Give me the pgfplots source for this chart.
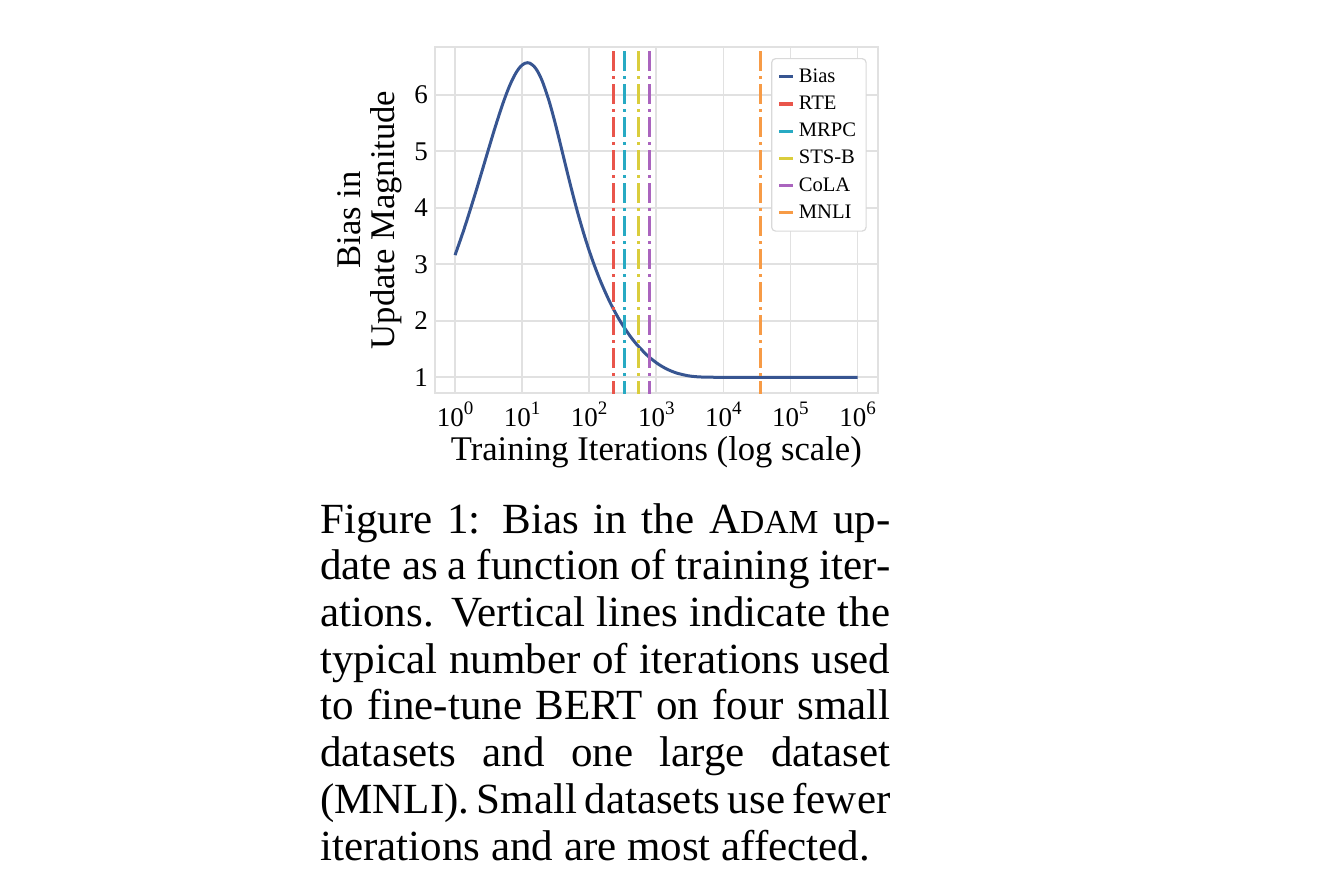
\documentclass[border=0pt]{standalone}
\usepackage{fontspec}
\setmainfont{Liberation Serif}
\usepackage{pgfplots}
\pgfplotsset{compat=1.18}
\definecolor{cbias}{RGB}{55,85,145}
\definecolor{crte}{RGB}{233,85,75}
\definecolor{cmrpc}{RGB}{40,170,195}
\definecolor{csts}{RGB}{218,205,60}
\definecolor{ccola}{RGB}{170,100,190}
\definecolor{cmnli}{RGB}{247,155,70}
\definecolor{cgrid}{RGB}{225,225,225}
\newcommand{\pw}[1]{10\raisebox{0.45em}{\fontsize{9.5}{10}\selectfont #1}}
\begin{document}
\begin{tikzpicture}
\useasboundingbox (0,0) rectangle (672pt,445pt);
\begin{axis}[
  at={(217.45pt,248.5pt)}, anchor=south west,
  scale only axis, width=221.4pt, height=173pt,
  xmode=log, log basis x=10,
  xmin=0.501187, xmax=1995262,
  ymin=0.7216, ymax=6.847,
  xtick={1,10,100,1000,10000,100000,1000000},
  xticklabels={\pw{0},\pw{1},\pw{2},\pw{3},\pw{4},\pw{5},\pw{6}},
  ytick={1,2,3,4,5,6},
  yticklabels={1,2,3,4,5,6},
  minor tick num=0, minor xtick={},
  major tick length=0pt,
  grid=major,
  grid style={cgrid, line width=0.9pt},
  axis line style={cgrid, line width=0.9pt},
  tick label style={font=\fontsize{13.5}{14}\selectfont},
  xticklabel style={yshift=-1pt},
  xlabel={Training Iterations (log scale)},
  xlabel style={font=\fontsize{17.3}{18}\selectfont, at={(axis description cs:0.5,-0.1965)}, anchor=base},
  ylabel={Bias in\\Update Magnitude},
  ylabel style={font=\fontsize{17.3}{17}\selectfont, align=center, at={(axis description cs:-0.146,0.5)}, anchor=center, rotate=0},
  legend style={at={(1,1)}, anchor=north east, xshift=-5.5pt, yshift=-5.5pt,
    font=\fontsize{10.3}{12}\selectfont, draw=gray!30, rounded corners=2pt,
    fill=white, line width=0.6pt, row sep=1.3pt, inner sep=3pt},
  legend cell align=left,
  legend image code/.code={\draw[#1,solid] (0pt,0pt) -- (7pt,0pt);},
  clip=true,
]
\addplot[cbias, line width=1.5pt, smooth] coordinates {
(1,3.1623) (1.25,3.4904) (1.5,3.775) (2,4.2496) (2.5,4.633) (3,4.950) (3.5,5.216)
(4,5.4417) (5,5.797) (6,6.0566) (7,6.245) (8,6.3787) (9,6.470) (10,6.528)
(11,6.5587) (12,6.5686) (13,6.5609) (15,6.5065) (17,6.4161) (20,6.2409)
(25,5.9058) (30,5.5689) (35,5.2558) (40,4.9742) (50,4.5037) (60,4.1354)
(70,3.8426) (85,3.5018) (100,3.2407) (120,2.9731) (150,2.6788) (200,2.3477)
(250,2.1257) (300,1.9638) (400,1.7412) (500,1.5939) (700,1.4091) (800,1.3473)
(1000,1.2576) (1200,1.1961) (1500,1.1344) (2000,1.0753) (3000,1.0258)
(4000,1.0093) (5000,1.0034) (7000,1.0005) (10000,1.0000) (100000,1) (1000000,1)};
\addlegendentry{Bias}
\addplot[crte, line width=1.6pt, dash pattern=on 10pt off 2.5pt on 1.5pt off 2.5pt] coordinates {(230,0) (230,8)};
\addlegendentry{RTE}
\addplot[cmrpc, line width=1.6pt, dash pattern=on 10pt off 2.5pt on 1.5pt off 2.5pt] coordinates {(340,0) (340,8)};
\addlegendentry{MRPC}
\addplot[csts, line width=1.6pt, dash pattern=on 10pt off 2.5pt on 1.5pt off 2.5pt] coordinates {(540,0) (540,8)};
\addlegendentry{STS-B}
\addplot[ccola, line width=1.6pt, dash pattern=on 10pt off 2.5pt on 1.5pt off 2.5pt] coordinates {(790,0) (790,8)};
\addlegendentry{CoLA}
\addplot[cmnli, line width=1.6pt, dash pattern=on 10pt off 2.5pt on 1.5pt off 2.5pt] coordinates {(36000,0) (36000,8)};
\addlegendentry{MNLI}
\end{axis}
\node[anchor=base west, inner sep=0pt] at (160pt,178.5pt) {\vtop{\hsize=285pt
\fontsize{21.5}{23.36}\selectfont
\hbox to \hsize{Figure 1: Bias in the A{\fontsize{16.8}{17}\selectfont DAM} up-}
\hbox to \hsize{date as a function of training iter-}
\hbox to \hsize{ations. Vertical lines indicate the}
\hbox to \hsize{typical number of iterations used}
\hbox to \hsize{to fine-tune BERT on four small}
\hbox to \hsize{datasets and one large dataset}
\hbox to \hsize{(MNLI). Small datasets use fewer}
\hbox{iterations and are most affected.}}};
\end{tikzpicture}
\end{document}
